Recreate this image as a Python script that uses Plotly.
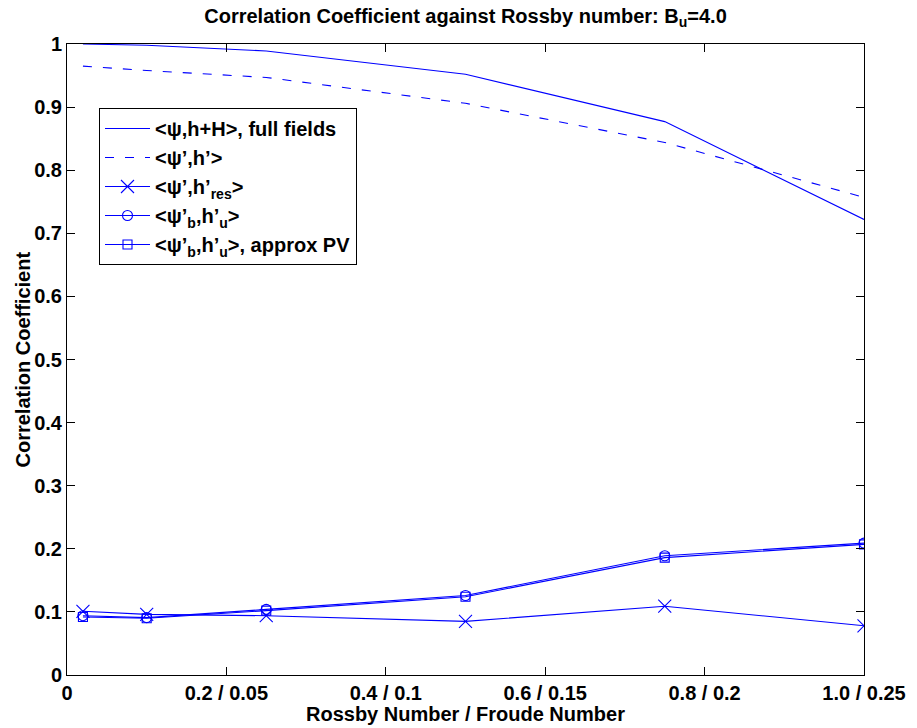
import plotly.graph_objects as go

# ---- data ----
rossby = [0.02, 0.1, 0.25, 0.5, 0.75, 1.0]
corr_full = [1.000, 0.998, 0.989, 0.952, 0.877, 0.722]
corr_prime = [0.965, 0.958, 0.947, 0.906, 0.844, 0.757]
corr_res = [0.101, 0.096, 0.094, 0.085, 0.109, 0.078]
corr_bu = [0.094, 0.091, 0.104, 0.126, 0.189, 0.209]
corr_bu_pv = [0.092, 0.090, 0.102, 0.124, 0.186, 0.207]

series_names = [
    "&lt;ψ,h+H&gt;, full fields",
    "&lt;ψ’,h’&gt;",
    "&lt;ψ’,h’<sub>res</sub>&gt;",
    "&lt;ψ’<sub>b</sub>,h’<sub>u</sub>&gt;",
    "&lt;ψ’<sub>b</sub>,h’<sub>u</sub>&gt;, approx PV",
]

x_tickvals = [0, 0.2, 0.4, 0.6, 0.8, 1.0]
x_ticktext = ["0", "0.2 / 0.05", "0.4 / 0.1", "0.6 / 0.15", "0.8 / 0.2", "1.0 / 0.25"]
y_tickvals = [0, 0.1, 0.2, 0.3, 0.4, 0.5, 0.6, 0.7, 0.8, 0.9, 1.0]
y_ticktext = ["0", "0.1", "0.2", "0.3", "0.4", "0.5", "0.6", "0.7", "0.8", "0.9", "1"]

title_text = "Correlation Coefficient against Rossby number: B<sub>u</sub>=4.0"
x_title = "Rossby Number / Froude Number"
y_title = "Correlation Coefficient"

BLUE = "#0000ff"
FONT = "Liberation Sans"
FS = 20

fig = go.Figure()
fig.add_trace(go.Scatter(x=rossby, y=corr_full, mode="lines", name=series_names[0],
                         line=dict(color=BLUE, width=1.1)))
fig.add_trace(go.Scatter(x=rossby, y=corr_prime, mode="lines", name=series_names[1],
                         line=dict(color=BLUE, width=1.1, dash="9px,11px")))
fig.add_trace(go.Scatter(x=rossby, y=corr_res, mode="lines+markers", name=series_names[2],
                         line=dict(color=BLUE, width=1.1),
                         marker=dict(symbol="x-thin-open", size=13, color=BLUE,
                                     line=dict(color=BLUE, width=1.1))))
fig.add_trace(go.Scatter(x=rossby, y=corr_bu, mode="lines+markers", name=series_names[3],
                         line=dict(color=BLUE, width=1.1),
                         marker=dict(symbol="circle-open", size=10, color=BLUE,
                                     line=dict(color=BLUE, width=1.1))))
fig.add_trace(go.Scatter(x=rossby, y=corr_bu_pv, mode="lines+markers", name=series_names[4],
                         line=dict(color=BLUE, width=1.1),
                         marker=dict(symbol="square-open", size=9, color=BLUE,
                                     line=dict(color=BLUE, width=1.1))))

axis_common = dict(showline=True, linecolor="black", linewidth=1, mirror="ticks",
                   ticks="inside", ticklen=8, tickcolor="black", tickwidth=1,
                   showgrid=False, zeroline=False,
                   tickfont=dict(family=FONT, size=FS, color="black", weight="bold"))

fig.update_layout(
    width=917, height=728, autosize=False,
    margin=dict(l=67, r=53, t=44, b=53, pad=0),
    paper_bgcolor="white", plot_bgcolor="white",
    font=dict(family=FONT, size=FS, color="black", weight="bold"),
    title=dict(text=title_text, x=0.5, xref="paper", xanchor="center",
               y=1 - 16 / 728, yref="container", yanchor="middle",
               font=dict(family=FONT, size=FS, color="black", weight="bold")),
    xaxis=dict(range=[0, 1.0], tickvals=x_tickvals, ticktext=x_ticktext, **axis_common),
    yaxis=dict(range=[0, 1.0], tickvals=y_tickvals, ticktext=y_ticktext, **axis_common),
    showlegend=True,
    legend=dict(x=(99 - 67) / 797, y=(675 - 108) / 631, xanchor="left", yanchor="top",
                bordercolor="black", borderwidth=1, bgcolor="white",
                font=dict(family=FONT, size=FS, color="black", weight="bold"),
                tracegroupgap=0, itemwidth=45),
    annotations=[
        dict(text=x_title, x=0.5, xref="paper", y=0, yref="paper",
             xanchor="center", yanchor="top", yshift=-26, showarrow=False,
             font=dict(family=FONT, size=FS, color="black", weight="bold")),
        dict(text=y_title, x=(22 - 67) / 797, xref="paper", y=0.5, yref="paper",
             xanchor="center", yanchor="middle", textangle=-90, showarrow=False,
             font=dict(family=FONT, size=FS, color="black", weight="bold")),
    ],
)

fig.write_html("out.html")
